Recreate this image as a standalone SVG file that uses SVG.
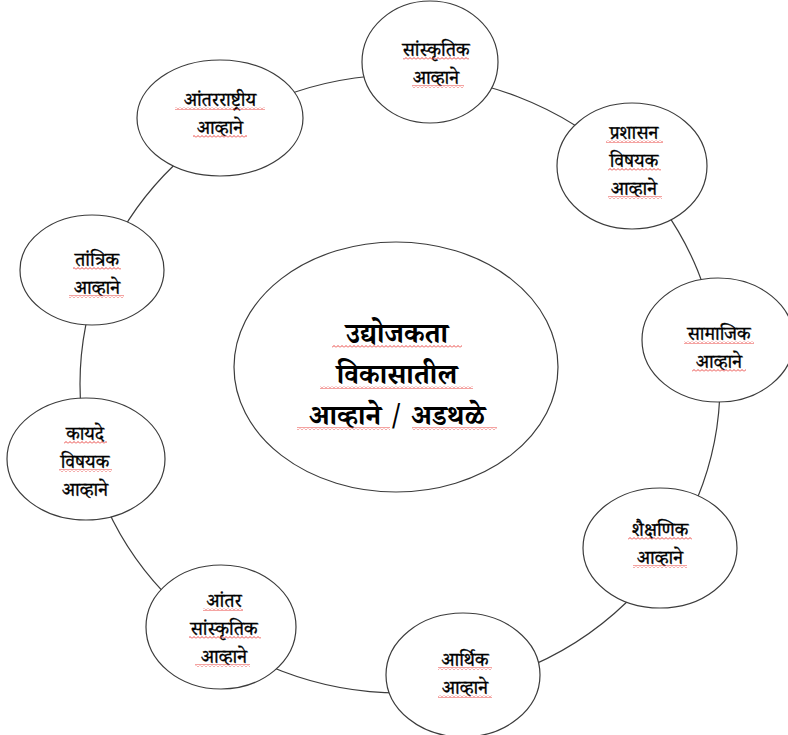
<svg xmlns="http://www.w3.org/2000/svg" width="788" height="735" viewBox="0 0 788 735">
<defs>
<style>
.node{fill:#ffffff;stroke:#3c3c3c;stroke-width:1.2}
.ring{fill:none;stroke:#3c3c3c;stroke-width:1.2}
.lbl{font-family:"Noto Serif Devanagari","Noto Sans Devanagari","Mangal","Lohit Devanagari","FreeSerif","Noto Sans",serif;font-size:19px;fill:#000;stroke:#000;stroke-width:0.35;text-anchor:middle}
.big{font-family:"Noto Serif Devanagari","Noto Sans Devanagari","Mangal","Lohit Devanagari","FreeSerif","Noto Sans",serif;font-size:28px;font-weight:bold;fill:#000;text-anchor:middle}
.sq{fill:url(#sq)}
</style>
<pattern id="sq" width="4" height="3" patternUnits="userSpaceOnUse">
<path d="M0,2.5 L2,0.5 L4,2.5" fill="none" stroke="#e8322e" stroke-width="0.9"/>
</pattern>
</defs>
<rect width="788" height="735" fill="#ffffff"/>
<g id="connectors">
<ellipse class="ring" cx="400" cy="384" rx="320" ry="309"/>
</g>
<g id="center">
<ellipse class="node" cx="396" cy="367" rx="162" ry="125"/>
<text class="big" x="397" y="343">उद्योजकता</text>
<text class="big" x="397" y="384">विकासातील</text>
<text class="big" x="397" y="425">आव्हाने / अडथळे</text>
<rect class="sq" x="332" y="345" width="130" height="3"/>
<rect class="sq" x="320" y="386" width="153" height="3"/>
<rect class="sq" x="297" y="427" width="93" height="3"/>
<rect class="sq" x="412" y="427" width="85" height="3"/>
</g>
<g id="sanskrutik">
<ellipse class="node" cx="430" cy="62" rx="68" ry="61"/>
<text class="lbl" x="436" y="56">सांस्कृतिक</text>
<text class="lbl" x="436" y="84">आव्हाने</text>
<rect class="sq" x="403" y="57" width="66" height="3"/>
<rect class="sq" x="412" y="85" width="52" height="3"/>
</g>
<g id="antarrashtriya">
<ellipse class="node" cx="220" cy="118" rx="83" ry="58"/>
<text class="lbl" x="220" y="106">आंतरराष्ट्रीय</text>
<text class="lbl" x="220" y="134">आव्हाने</text>
<rect class="sq" x="175" y="107" width="90" height="3"/>
<rect class="sq" x="193" y="135" width="54" height="3"/>
</g>
<g id="prashasan">
<ellipse class="node" cx="632" cy="166" rx="75" ry="63"/>
<text class="lbl" x="634" y="139">प्रशासन</text>
<text class="lbl" x="634" y="167">विषयक</text>
<text class="lbl" x="634" y="195">आव्हाने</text>
<rect class="sq" x="606" y="140" width="57" height="3"/>
<rect class="sq" x="608" y="168" width="53" height="3"/>
<rect class="sq" x="608" y="196" width="54" height="3"/>
</g>
<g id="samajik">
<ellipse class="node" cx="718" cy="340" rx="76" ry="62"/>
<text class="lbl" x="719" y="340">सामाजिक</text>
<text class="lbl" x="719" y="368">आव्हाने</text>
<rect class="sq" x="684" y="341" width="70" height="3"/>
<rect class="sq" x="692" y="369" width="54" height="3"/>
</g>
<g id="shaikshanik">
<ellipse class="node" cx="660" cy="548" rx="77" ry="60"/>
<text class="lbl" x="660" y="536">शैक्षणिक</text>
<text class="lbl" x="660" y="564">आव्हाने</text>
<rect class="sq" x="628" y="537" width="64" height="3"/>
<rect class="sq" x="633" y="565" width="54" height="3"/>
</g>
<g id="arthik">
<ellipse class="node" cx="463" cy="675" rx="77" ry="62"/>
<text class="lbl" x="465" y="666">आर्थिक</text>
<text class="lbl" x="465" y="694">आव्हाने</text>
<rect class="sq" x="438" y="667" width="54" height="3"/>
<rect class="sq" x="438" y="695" width="54" height="3"/>
</g>
<g id="aantar-sanskrutik">
<ellipse class="node" cx="221" cy="627" rx="75" ry="62"/>
<text class="lbl" x="224" y="607">आंतर</text>
<text class="lbl" x="224" y="635">सांस्कृतिक</text>
<text class="lbl" x="224" y="663">आव्हाने</text>
<rect class="sq" x="203" y="608" width="40" height="3"/>
<rect class="sq" x="189" y="636" width="72" height="3"/>
<rect class="sq" x="195" y="664" width="55" height="3"/>
</g>
<g id="kayde">
<ellipse class="node" cx="86" cy="459" rx="79" ry="61"/>
<text class="lbl" x="85" y="440">कायदे</text>
<text class="lbl" x="85" y="468">विषयक</text>
<text class="lbl" x="85" y="496">आव्हाने</text>
<rect class="sq" x="64" y="441" width="43" height="3"/>
<rect class="sq" x="59" y="469" width="53" height="3"/>
</g>
<g id="tantrik">
<ellipse class="node" cx="92" cy="270" rx="72" ry="55"/>
<text class="lbl" x="97" y="266">तांत्रिक</text>
<text class="lbl" x="97" y="294">आव्हाने</text>
<rect class="sq" x="73" y="267" width="48" height="3"/>
<rect class="sq" x="69" y="295" width="55" height="3"/>
</g>
</svg>
